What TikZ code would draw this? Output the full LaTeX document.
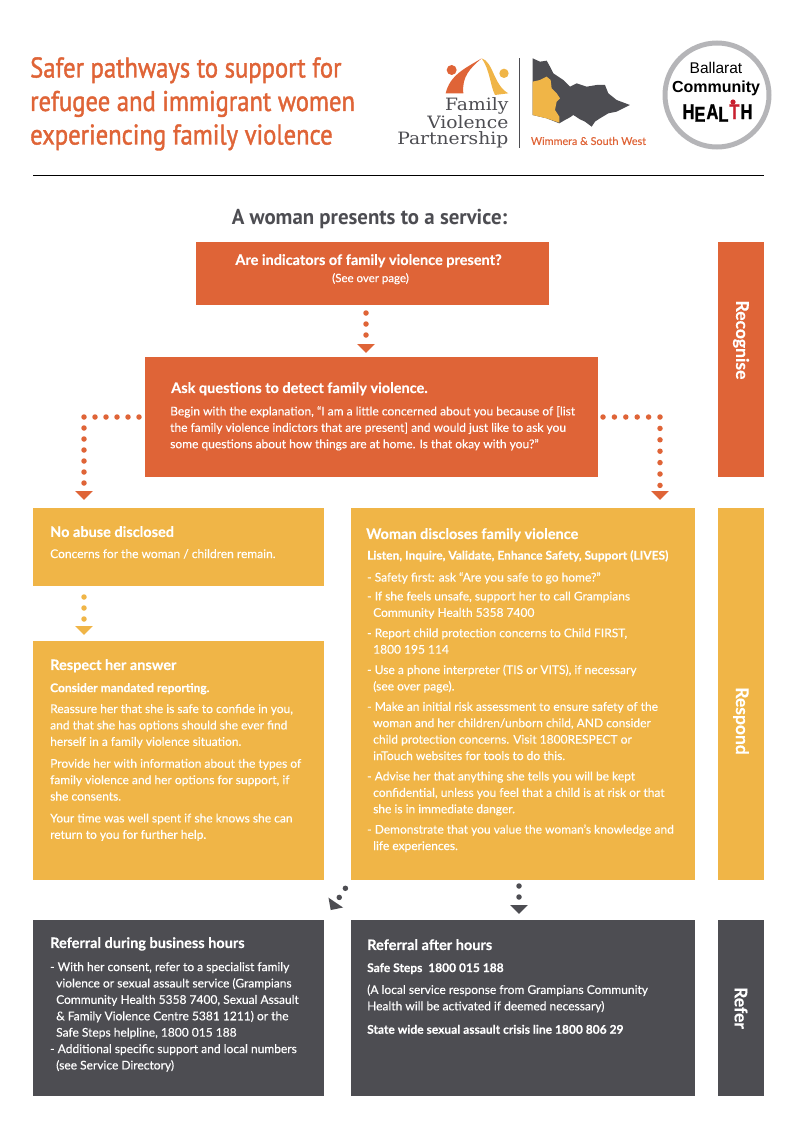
\documentclass[tikz,border=0pt]{standalone}
\usepackage{fontspec}
\setsansfont[FakeBold=0.25]{Lato}
\newfontfamily\titlefont[FakeStretch=0.865,FakeBold=1.4]{PT Sans}
\newfontfamily\headingfont[FakeStretch=0.97]{PT Sans Bold}
\newfontfamily\logofont{Liberation Sans}
\newfontfamily\healthfont[FakeBold=1.5]{Liberation Sans Bold}
\newfontfamily\partnerfont[FakeStretch=1.1]{DejaVu Serif}
\usetikzlibrary{arrows.meta,positioning,calc}
\definecolor{fvorange}{HTML}{DF6437}
\definecolor{fvyellow}{HTML}{F0B547}
\definecolor{fvdark}{HTML}{4D4D52}
\definecolor{fvring}{HTML}{B5B5B8}
\definecolor{fvred}{HTML}{C8202F}
\tikzset{
    flowbox/.style={rectangle, inner sep=0pt, outer sep=0pt},
    headtext/.style={inner sep=0pt, anchor=north west, text=white, font=\sffamily\bfseries\fontsize{14.5}{17}\selectfont},
    bodytext/.style={inner sep=0pt, anchor=north west, text=white, align=left, font=\sffamily\fontsize{12}{16.4}\selectfont},
    sidelabel/.style={inner sep=0pt, rotate=-90, text=white, font=\sffamily\bfseries\fontsize{17.5}{20}\selectfont},
    partnertext/.style={inner sep=0pt, anchor=base east, text=fvdark, font=\partnerfont\fontsize{17}{20}\selectfont},
    dotflow/.style={draw=#1, line width=5.5pt, line cap=round, dash pattern=on 0pt off 11pt,
        -{Triangle[length=9pt,width=17pt,fill=#1]}}
}
\begin{document}
\begin{tikzpicture}[x=1pt, y=-1pt, node distance=40pt]
    \useasboundingbox (0,0) rectangle (800,1130);
    % Title
    \node[inner sep=0pt, anchor=north west, align=left, text=fvorange,
        font=\titlefont\fontsize{28.5}{33.5}\selectfont] (title) at (30,57)
        {Safer pathways to support for\\refugee and immigrant women\\experiencing family violence};
    \draw[line width=0.8pt] (33,175) -- (764,175);

    % Partnership logo and map, in the units of the crop
    \begin{scope}[shift={(400,30)}, x=0.3333pt, y=-0.3333pt]
        \fill[fvorange] (137,190) .. controls (150,135) and (195,115) .. (245,85)
            .. controls (210,115) and (185,140) .. (190,190) -- cycle;
        \fill[fvyellow] (245,85) .. controls (280,95) and (280,165) .. (325,190)
            -- (285,195) .. controls (270,165) and (270,120) .. (245,85) -- cycle;
        \fill[fvorange] (155,120) circle (15);
        \fill[fvyellow] (312,130) circle (14);
        \fill[fvdark] (398,85) -- (420,95) -- (440,92) -- (450,110) -- (460,130) -- (490,150)
            -- (510,170) -- (530,160) -- (560,170) -- (590,165) -- (615,165) -- (625,190)
            -- (650,210) -- (690,225) -- (650,245) -- (625,250) -- (600,265) -- (585,275)
            -- (575,290) -- (555,275) -- (540,268) -- (520,255) -- (510,262) -- (495,270)
            -- (478,280) -- (440,265) -- (398,255) -- cycle;
        \fill[fvyellow] (398,155) -- (420,150) -- (440,140) -- (452,150) -- (455,175) -- (470,190)
            -- (480,205) -- (470,215) -- (465,240) -- (478,260) -- (478,278) -- (440,265)
            -- (398,255) -- cycle;
    \end{scope}
    \node[partnertext] (family) at (508.5,110.5) {Family};
    \node[partnertext] (violence) at (508.5,128) {Violence};
    \node[partnertext] (partnership) at (508.5,144.5) {Partnership};
    \draw[fvdark, line width=0.7pt] (519,58) -- (519,148);
    \node[inner sep=0pt, text=fvorange, font=\sffamily\fontsize{10.8}{13}\selectfont] (region) at (588.5,141)
        {Wimmera \& South West};

    % Ballarat logo
    \draw[fvring, line width=5pt] (717,95) circle (52);
    \node[inner sep=0pt, text=black, font=\logofont\fontsize{15.5}{18}\selectfont] (ballarat) at (716,68) {Ballarat};
    \node[inner sep=0pt, text=black, font=\logofont\bfseries\fontsize{16}{18}\selectfont] (community) at (716,88)
        {Community};
    \node[inner sep=0pt, text=black, font=\healthfont\fontsize{16.5}{20}\selectfont] (health) at (717.5,113)
        {\scalebox{1}[1.3]{H\raisebox{-2pt}{E}\hspace{1pt}A\raisebox{-2pt}{L}\hspace{1pt}{\color{fvred}T}\hspace{1pt}H}};
    \fill[fvred] (733,102) circle (2.6);

    % Heading
    \node[inner sep=0pt, text=fvdark, font=\headingfont\fontsize{21.5}{26}\selectfont] (presents) at (369.5,219)
        {A woman presents to a service:};

    % Flow boxes
    \node[flowbox, fill=fvorange, minimum width=353pt, minimum height=63pt, anchor=north west] (indicators) at (196,242) {};
    \node[flowbox, fill=fvorange, minimum width=453pt, minimum height=120pt, below=52pt of indicators, xshift=-1pt] (ask) {};
    \node[flowbox, fill=fvyellow, minimum width=291pt, minimum height=78pt, anchor=north west] (noabuse) at (33,508) {};
    \node[flowbox, fill=fvyellow, minimum width=291pt, minimum height=239pt, below=55pt of noabuse] (respect) {};
    \node[flowbox, fill=fvyellow, minimum width=344pt, minimum height=372pt, anchor=north west] (discloses) at (351,508) {};
    \node[flowbox, fill=fvdark, minimum width=291pt, minimum height=176pt, below=of respect] (business) {};
    \node[flowbox, fill=fvdark, minimum width=344pt, minimum height=176pt, below=of discloses] (afterhours) {};

    % Side bars
    \node[flowbox, fill=fvorange, minimum width=46pt, minimum height=235pt, anchor=north west] (recognise) at (718,242) {};
    \node[flowbox, fill=fvyellow, minimum width=46pt, minimum height=372pt, anchor=north west] (respond) at (718,508) {};
    \node[flowbox, fill=fvdark, minimum width=46pt, minimum height=176pt, anchor=north west] (refer) at (718,920) {};
    \node[sidelabel] (recogniselabel) at (741,340) {Recognise};
    \node[sidelabel] (respondlabel) at (741,721) {Respond};
    \node[sidelabel] (referlabel) at (741,1008) {Refer};

    % Connectors
    \draw[dotflow=fvorange, shorten <=8pt, shorten >=4pt] ([xshift=170pt]indicators.south west) -- ([xshift=221pt]ask.north west);
    \draw[dotflow=fvorange, shorten <=6pt, shorten >=8pt] (ask.west) -| ([xshift=51pt]noabuse.north west);
    \draw[dotflow=fvorange, dash pattern=on 0pt off 11.4pt, shorten <=5pt, shorten >=8pt] (ask.east) -| ([xshift=309pt]discloses.north west);
    \draw[dotflow=fvyellow, shorten <=11pt, shorten >=6pt] ([xshift=51pt]noabuse.south west) -- ([xshift=51pt]respect.north west);
    \draw[dotflow=fvdark, shorten <=6pt, shorten >=6pt] ([xshift=168pt]discloses.south west) -- ([xshift=168pt]afterhours.north west);
    \draw[dotflow=fvdark, shorten <=10pt, shorten >=12pt] (discloses.south west) -- (business.north east);

    % Text of the orange boxes
    \node[headtext, anchor=north] (indicatorshead) at (368.5,254) {Are indicators of family violence present?};
    \node[bodytext, anchor=north, font=\sffamily\fontsize{11.5}{13}\selectfont] (indicatorsnote) at (370.5,273) {(See over page)};
    \node[headtext] (askhead) at ([shift={(26,25)}]ask.north west) {Ask questions to detect family violence.};
    \node[bodytext] (asktext) at ([shift={(25,49)}]ask.north west)
        {Begin with the explanation, “I am a little concerned about you because of [list\\
         the family violence indictors that are present] and would just like to ask you\\
         some questions about how things are at home. Is that okay with you?”};

    % Text of the left yellow boxes
    \node[headtext] (noabusehead) at ([shift={(17,18)}]noabuse.north west) {No abuse disclosed};
    \node[bodytext] (noabusetext) at ([shift={(17,41)}]noabuse.north west) {Concerns for the woman / children remain.};
    \node[headtext] (respecthead) at ([shift={(17,18)}]respect.north west) {Respect her answer};
    \node[bodytext] (respecttext) at ([shift={(17,42)}]respect.north west)
        {\textbf{Consider mandated reporting.}\\[4.5pt]
         Reassure her that she is safe to confide in you,\\
         and that she has options should she ever find\\
         herself in a family violence situation.\\[5.5pt]
         Provide her with information about the types of\\
         family violence and her options for support, if\\
         she consents.\\[5.5pt]
         Your time was well spent if she knows she can\\
         return to you for further help.};

    % Text of the right yellow box
    \node[headtext] (discloseshead) at ([shift={(15,20)}]discloses.north west) {Woman discloses family violence};
    \node[bodytext] (disclosestext) at ([shift={(16,42)}]discloses.north west)
        {\textbf{Listen, Inquire, Validate, Enhance Safety, Support (LIVES)}\\[5.5pt]
         - Safety first: ask “Are you safe to go home?”\\[2.5pt]
         - If she feels unsafe, support her to call Grampians\\
         \hspace*{6pt}Community Health 5358 7400\\[4pt]
         - Report child protection concerns to Child FIRST,\\
         \hspace*{6pt}1800 195 114\\[4pt]
         - Use a phone interpreter (TIS or VITS), if necessary\\
         \hspace*{6pt}(see over page).\\[4pt]
         - Make an initial risk assessment to ensure safety of the\\
         \hspace*{6pt}woman and her children/unborn child, AND consider\\
         \hspace*{6pt}child protection concerns. Visit 1800RESPECT or\\
         \hspace*{6pt}inTouch websites for tools to do this.\\[4pt]
         - Advise her that anything she tells you will be kept\\
         \hspace*{6pt}confidential, unless you feel that a child is at risk or that\\
         \hspace*{6pt}she is in immediate danger.\\[4pt]
         - Demonstrate that you value the woman's knowledge and\\
         \hspace*{6pt}life experiences.};

    % Text of the dark boxes
    \node[headtext] (businesshead) at ([shift={(17,17)}]business.north west) {Referral during business hours};
    \node[bodytext] (businesstext) at ([shift={(17,42)}]business.north west)
        {- With her consent, refer to a specialist family\\
         \hspace*{6pt}violence or sexual assault service (Grampians\\
         \hspace*{6pt}Community Health 5358 7400, Sexual Assault\\
         \hspace*{6pt}\& Family Violence Centre 5381 1211) or the\\
         \hspace*{6pt}Safe Steps helpline, 1800 015 188\\
         - Additional specific support and local numbers\\
         \hspace*{6pt}(see Service Directory)};
    \node[headtext] (afterhead) at ([shift={(16,19)}]afterhours.north west) {Referral after hours};
    \node[bodytext] (aftertext) at ([shift={(16,43)}]afterhours.north west)
        {\textbf{Safe Steps \ 1800 015 188}\\[5.5pt]
         (A local service response from Grampians Community\\
         Health will be activated if deemed necessary)\\[7pt]
         \textbf{State wide sexual assault crisis line 1800 806 29}};
\end{tikzpicture}
\end{document}
